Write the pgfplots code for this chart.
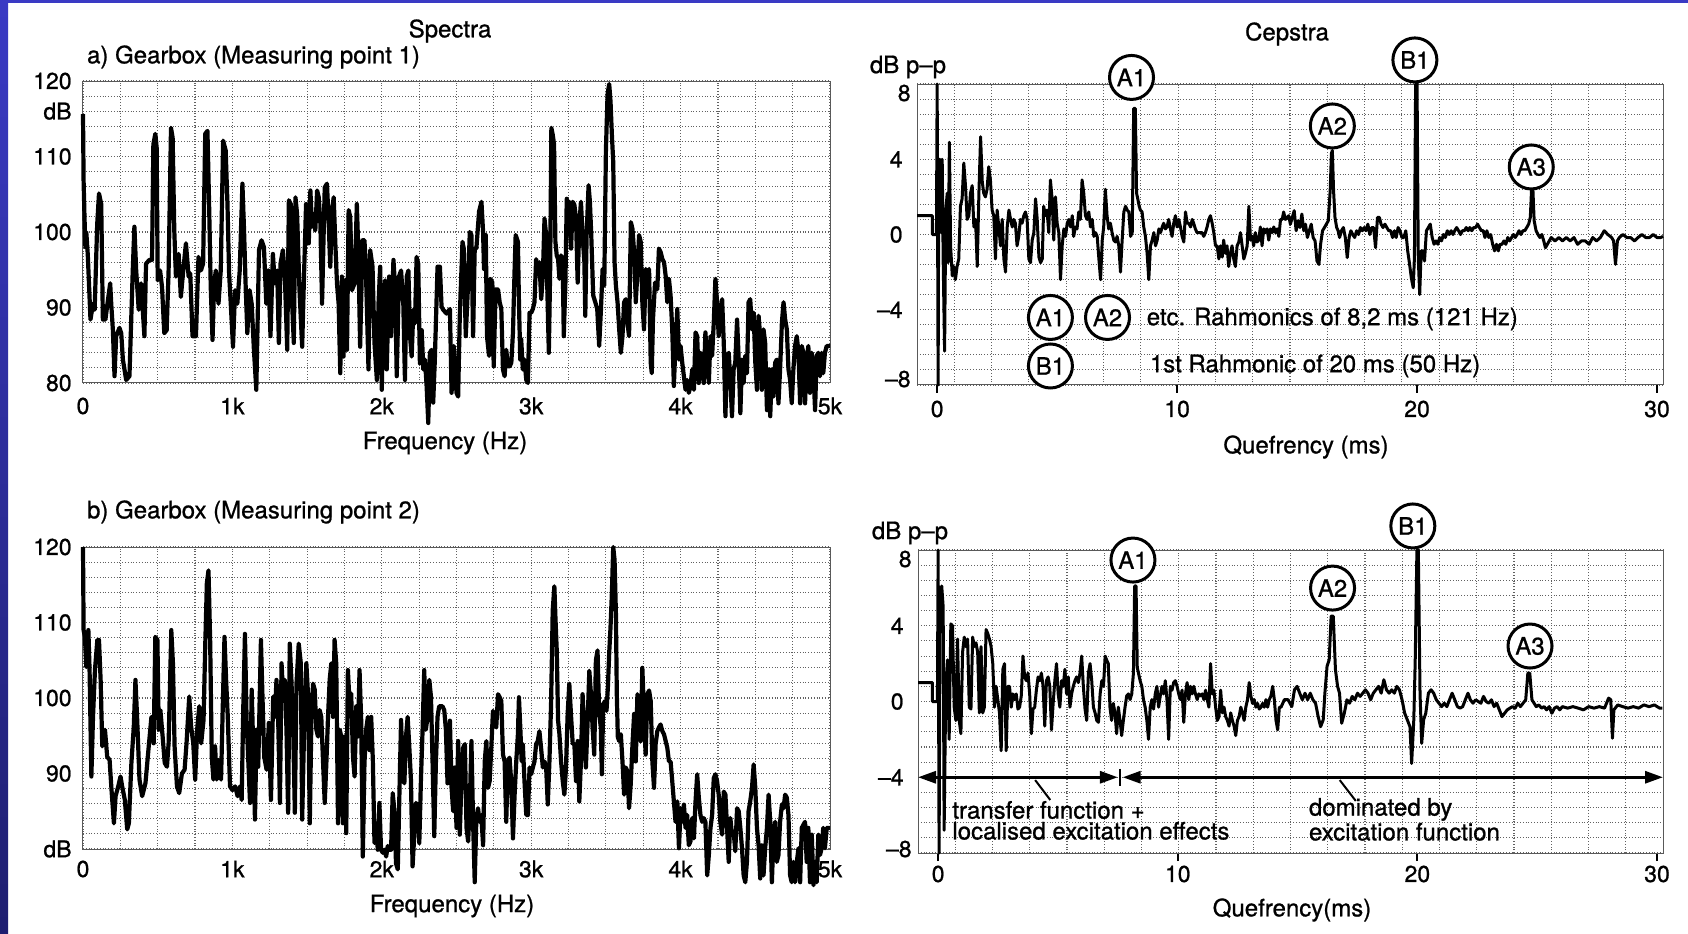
\documentclass[border=0pt]{standalone}
\usepackage{pgfplots}
\pgfplotsset{compat=1.18}
\usepackage{fontspec}
\setmainfont{TeX Gyre Heros}[FakeBold=0.9]
\usetikzlibrary{arrows.meta}

\definecolor{frameblue}{RGB}{58,58,196}
\definecolor{framenavy}{RGB}{30,30,112}

\newcommand{\txt}{\fontsize{12}{14}\selectfont}
\newcommand{\tks}{\fontsize{11.5}{13}\selectfont}

\tikzset{
  peaklabel/.style={draw, circle, line width=1.5pt, minimum size=22pt, inner sep=0pt, fill=white, font=\txt},
  ceplabel/.style={anchor=east, inner sep=0pt, xshift=-3pt, font=\tks},
}

\pgfplotsset{
  chartpaper/.style={
    scale only axis,
    clip=false,
    /pgf/number format/assume math mode=true,
    axis line style={black!65, line width=0.5pt},
    grid style={black!62, densely dotted, line width=0.55pt},
    tick label style={font=\tks},
    ytick style={draw=none},
    minor tick length=0pt,
  },
  spectrum/.style={
    chartpaper,
    width=373.5pt, height=151pt,
    xmin=0, xmax=5000, ymin=80, ymax=120,
    xtick={0,1000,2000,3000,4000,5000},
    xticklabels={0,1k,2k,3k,4k,5k},
    ytick={80,90,100,110,120},
    yticklabels={80,90,100,110,120},
    minor x tick num=3,
    minor y tick num=4,
    grid=both,
    xtick style={draw=none},
    yticklabel style={anchor=east, inner sep=0pt, xshift=-5.5pt},
  },
  cepstrum/.style={
    chartpaper,
    width=373pt, height=150.5pt,
    xmin=-0.84, xmax=30.25, ymin=-8, ymax=8,
    xtick={0,10,20,30},
    xticklabels={0,10,20,30},
    ytick={-8,-4,0,4,8},
    yticklabels={,--4,0,4,},
    minor xtick={0.7145,2.269,3.8235,5.378,6.9325,8.487,10.0415,11.596,13.1505,14.705,16.2595,17.814,19.3685,20.923,22.4775,24.032,25.5865,27.141,28.6955},
    minor y tick num=4,
    xmajorgrids=false, xminorgrids=true,
    ymajorgrids=true, yminorgrids=true,
    tick pos=left,
    tick align=outside,
    xtick style={black, line width=1pt},
    major tick length=4pt,
    yticklabel style={anchor=east, inner sep=0pt, xshift=-3pt},
  },
  trace/.style={black, line width=2.1pt, line join=round},
  ctrace/.style={black, line width=1.5pt, line join=round},
}

\begin{document}
\begin{tikzpicture}
\useasboundingbox (0,0) rectangle (844pt,466.5pt);
\fill[white] (0,0) rectangle (844pt,466.5pt);
\shade[top color=frameblue, bottom color=framenavy] (0,0) rectangle (4pt,466.5pt);
\fill[frameblue] (0,464.8pt) rectangle (844pt,466.5pt);

% headings
\node[font=\txt] at (225pt,451pt) {Spectra};
\node[font=\txt] at (643.5pt,449.5pt) {Cepstra};
\node[font=\txt, anchor=west] at (40pt,438pt) {a) Gearbox (Measuring point 1)};
\node[font=\txt, anchor=west] at (40pt,210.5pt) {b) Gearbox (Measuring point 2)};
\node[font=\txt] at (222.5pt,245pt) {Frequency (Hz)};
\node[font=\txt] at (226pt,13.5pt) {Frequency (Hz)};
\node[font=\txt] at (653pt,243pt) {Quefrency (ms)};
\node[font=\txt] at (646pt,11.5pt) {Quefrency(ms)};
\node[font=\txt] at (454pt,433pt) {dB p--p};
\node[font=\txt] at (455pt,200pt) {dB p--p};

% ---------------- a) spectrum, measuring point 1
\begin{axis}[spectrum, at={(41.5pt,275pt)}, anchor=south west,
  xticklabel style={anchor=center, yshift=-11.5pt}]
\addplot[trace] table {
f dB
0 115.6
4 106.8
10 102
16 98
22 100
32 97
50 88.4
67 90.5
78 89.7
95 101
107 105.1
122 103.7
133 88.4
150 88.4
167 91
182 93.2
189 90.5
200 87
211 80.9
222 86.2
244 87.3
256 86.6
267 83.1
289 80.4
311 80.9
333 94.9
344 100.7
356 94.9
373 89.7
389 93.2
411 86.2
422 95.8
444 96.3
462 96.3
471 111.6
484 113
493 111.2
500 93.6
516 94.9
529 92.7
544 86.6
560 87
573 94.9
589 113.8
600 112.5
611 100.2
622 94.1
640 97.1
655 91.4
671 94.9
689 98.5
707 94.1
718 94.5
733 86.2
756 86.2
773 96.7
789 94.9
804 95.8
818 113
833 113.4
844 103.7
855 92.7
867 85.7
878 93.2
889 94.9
907 90.5
922 94.9
938 112.1
955 110.8
967 103.7
978 94.5
989 90.5
1004 84.8
1018 92.3
1033 90.5
1049 94.9
1067 106.4
1078 100.2
1089 92.7
1100 86.6
1115 92.3
1129 90.5
1144 84.4
1160 79.1
1178 97.6
1195 98.9
1211 98
1227 90.5
1240 94.9
1255 86.2
1271 97.1
1284 93.2
1300 94.9
1311 85.3
1322 95.8
1338 97.6
1351 94.1
1367 84.4
1378 104.2
1391 103.7
1400 90.5
1411 85.3
1422 104.6
1433 102.4
1449 92.3
1467 84.8
1478 93.2
1493 103.7
1511 98.5
1522 105.5
1533 100.7
1544 102.4
1555 100.2
1567 105.5
1578 104.6
1589 101.1
1600 90.5
1618 105.9
1633 106.4
1644 101.5
1655 95.4
1667 102.9
1678 104.6
1689 98.5
1700 93.2
1711 90.5
1722 81.3
1733 94.1
1744 83.5
1755 93.6
1767 84.4
1778 102.9
1789 102
1800 92.3
1818 93.2
1833 103.7
1844 96.7
1855 84.8
1871 98.9
1884 98.9
1893 95.4
1911 81.8
1922 97.6
1938 95.4
1951 85.3
1967 80.4
1978 90.5
1989 95.4
2000 79.1
2011 91
2022 93.6
2033 81.8
2049 94.1
2062 86.2
2078 96.3
2089 92.7
2100 80.9
2115 94.1
2129 94.9
2144 90.5
2155 80.4
2167 94.1
2178 94.9
2189 86.2
2200 83.5
2211 89.7
2222 87.9
2233 96.7
2244 95.8
2255 82.6
2267 87
2278 81.8
2289 83.1
2300 79.6
2311 74.7
2322 84
2333 84.4
2344 77.4
2355 83.1
2373 95.4
2389 95.4
2400 90.1
2411 89.7
2433 89.2
2456 89.8
2467 78.7
2482 84.9
2500 78.7
2511 78.2
2522 88.9
2540 98.7
2549 97.8
2562 86.2
2578 93.3
2589 100
2600 99.6
2611 86.2
2622 97.8
2633 97.8
2651 102.7
2667 104
2678 100
2684 95.1
2696 99.6
2704 86.2
2718 83.6
2727 93.8
2740 93.3
2749 82.2
2762 92.4
2778 92.4
2789 90.7
2800 89.8
2811 81.8
2822 80.9
2833 84.4
2844 82.2
2856 82.2
2867 82.7
2878 86.7
2889 95.1
2896 99.6
2911 98.7
2918 90.7
2927 83.1
2933 85.8
2944 81.8
2955 83.1
2967 80.4
2978 80
2989 89.3
3000 89.3
3011 89.8
3022 90.7
3033 96.4
3044 95.1
3055 96
3067 91.1
3078 94.2
3089 101.8
3100 99.6
3111 89.8
3118 84
3127 95.1
3135 113.8
3144 112.9
3153 111.6
3162 98.7
3171 96.9
3180 96.4
3189 93.8
3200 96.9
3211 96
3218 86.2
3229 93.3
3238 104.4
3247 102.2
3256 104
3267 97.8
3278 104
3289 103.6
3300 101.8
3311 93.3
3322 100.9
3333 104
3344 99.6
3356 96
3362 88.9
3371 99.6
3384 106.2
3393 104
3402 99.6
3415 91.6
3429 90.7
3442 89.8
3455 84.9
3467 89.8
3478 95.1
3489 92.9
3500 110.7
3511 118.2
3522 119.6
3531 117.3
3540 112.9
3549 109.3
3558 96
3567 92.9
3578 90.7
3589 87.1
3600 84
3611 86.2
3622 90.7
3633 91.1
3644 88
3655 86.2
3667 101.3
3678 100.4
3689 97.3
3700 90.7
3711 94.7
3722 99.6
3733 98.7
3744 90.7
3755 87.1
3767 95.1
3778 93.3
3789 95.1
3800 82.7
3807 81.3
3815 88.4
3829 93.3
3844 92.4
3855 97.8
3867 97.3
3878 96.4
3889 96
3900 94.2
3911 90.7
3922 93.8
3933 91.6
3944 87.1
3955 79.6
3967 85.8
3978 89.8
3989 83.1
4000 84.9
4011 82.7
4022 80.9
4033 79.1
4044 80.4
4055 78.7
4066 79.6
4078 81.8
4089 79.1
4100 86.7
4111 86.2
4122 80
4133 84
4144 83.6
4155 80
4166 86.7
4178 83.1
4189 80
4200 86.2
4211 83.6
4222 88
4233 93.8
4244 90.7
4255 86.2
4266 89.3
4278 91.1
4289 85.3
4300 75.6
4311 83.6
4322 84
4333 80.4
4344 75.6
4355 81.8
4366 82.7
4378 88.4
4389 83.1
4400 76
4411 83.1
4422 80
4433 83.6
4444 81.3
4455 90.7
4466 91.1
4478 87.1
4489 89.3
4500 82.7
4511 79.1
4522 88.9
4533 86.2
4544 79.1
4555 87.1
4566 85.3
4578 76.4
4589 81.8
4600 75.6
4611 81.8
4622 78.2
4633 82.7
4644 83.1
4655 77.3
4666 81.8
4678 88
4689 90.7
4700 88.4
4711 87.1
4722 81.8
4733 80.4
4744 77.3
4755 81.8
4766 84.9
4778 86.2
4789 84
4800 77.3
4811 84.9
4822 84
4833 77.3
4844 83.1
4855 84.9
4866 78.7
4878 84
4889 81.8
4900 76.4
4911 83.6
4922 84
4933 80.9
4944 84
4955 81.3
4966 84
4978 84.9
5000 84.9
};
\node[anchor=east, inner sep=0pt, xshift=-5.5pt, font=\tks] at (axis cs:0,116) {dB};
\end{axis}

% ---------------- b) spectrum, measuring point 2
\begin{axis}[spectrum, at={(41.5pt,42pt)}, anchor=south west,
  yticklabels={dB,90,100,110,120},
  xticklabel style={anchor=center, yshift=-10pt}]
\addplot[trace] table {
f dB
0 120
4 109
13 108.1
22 104.1
36 109
44 103.7
56 89.6
67 97.5
80 103.7
96 107.7
107 107.7
118 102.4
129 93.6
147 95.8
162 92.2
178 91.8
191 87.8
207 83.4
218 87
236 88.3
251 89.6
262 88.3
280 86.5
296 82.6
307 83.4
324 91.4
340 96.2
351 102.4
362 97.5
378 89.2
396 87
418 88.7
440 93.6
458 97.5
473 94
484 108.1
498 107.7
507 95.8
518 98.4
533 94.9
547 91.4
562 90.9
573 94
591 109
602 104.6
613 93.6
629 88.3
644 87.4
662 90
680 90.5
693 94
711 100.2
724 96.2
738 94
751 89.2
764 95.8
778 98.9
791 94
807 97.1
818 106.8
829 115.2
840 116.9
851 107.7
862 92.2
873 89.2
884 93.6
895 89.2
907 91.8
924 89.2
935 98.4
947 108.1
958 102.4
969 97.5
984 88.3
1000 87.8
1018 88.3
1035 87
1051 88.3
1062 86.5
1073 98.9
1084 108.5
1095 97.1
1107 91.4
1118 86.1
1129 101.1
1140 93.1
1151 83.9
1162 95.8
1173 90.9
1191 107.7
1200 101.1
1213 92.2
1229 90.5
1244 96.7
1258 86.5
1273 100.2
1284 97.5
1295 102.4
1307 96.7
1318 86.1
1329 104.6
1340 100.2
1351 102.4
1362 95.8
1373 84.8
1384 107.2
1395 102.4
1407 95.8
1418 84.8
1429 101.9
1444 107.2
1458 104.6
1467 83.9
1480 95.8
1495 104.6
1507 100.2
1518 83.4
1529 97.5
1540 101.9
1551 101.1
1562 95.8
1573 94.9
1584 98.4
1595 97.5
1607 91.4
1618 86.1
1629 91.4
1640 97.5
1651 102.4
1662 104.6
1673 97.5
1684 107.7
1695 104.6
1707 83.4
1718 95.8
1729 94.9
1740 83.4
1751 94.9
1762 82.1
1773 103.7
1784 99.5
1795 100.6
1807 92.2
1818 89.6
1829 98.9
1840 94.9
1851 103.7
1862 97.1
1873 79
1884 91.4
1895 95.8
1907 97.5
1918 93.1
1929 97.5
1940 91.8
1951 80.8
1962 83.4
1973 79.9
1984 86.1
1995 79.9
2007 79.5
2018 79.9
2029 79
2040 80.4
2051 79.9
2062 79.9
2073 87.4
2084 85.2
2095 78.1
2107 77.3
2118 87.4
2129 97.1
2140 89.6
2151 88.7
2162 94.9
2173 97.5
2184 93.6
2195 89.2
2206 77.7
2218 82.1
2229 86.1
2240 85.7
2251 80.8
2262 89.2
2273 95.8
2284 103.7
2295 95.8
2306 97.5
2318 102.4
2329 100.2
2340 91.4
2351 81.7
2362 91.4
2373 97.5
2384 98.9
2406 98.9
2418 98.4
2429 95.8
2440 88.7
2456 97
2467 88.1
2478 85
2489 90.8
2500 82.8
2511 94.3
2522 81.9
2533 89
2544 93.4
2556 93.9
2567 82.8
2578 81
2589 85.9
2600 94.3
2611 83.6
2622 75.6
2633 84.1
2644 85.4
2655 83.6
2666 84.5
2678 80.5
2689 91.6
2700 94.3
2711 88.1
2722 89
2733 93.4
2744 98.3
2755 97
2766 96.1
2778 100.5
2789 100.1
2800 99.6
2811 92.5
2822 91.6
2833 83.6
2844 91.6
2855 92.1
2866 89
2878 81.4
2889 87.2
2900 91.6
2911 95.2
2918 100.1
2927 96.1
2936 91.6
2944 93.9
2955 89
2967 84.5
2978 84.5
2989 90.8
3000 89.9
3011 90.8
3022 91.6
3033 93.9
3044 94.3
3055 95.6
3066 93.4
3078 90.8
3089 91.6
3100 90.8
3111 85.9
3122 91.6
3133 99.2
3144 111.6
3155 114.8
3162 110.8
3171 106.3
3180 97
3189 95.2
3200 91.6
3211 89
3222 87.2
3233 90.8
3244 97.9
3255 101.9
3266 97.9
3278 93.9
3289 93.9
3300 89
3311 94.3
3322 86.3
3333 91.6
3344 100.5
3355 96.1
3366 90.8
3378 97
3389 103.6
3400 100.5
3411 96.1
3422 92.5
3433 105
3444 106.3
3455 97.9
3466 96.1
3473 89.9
3482 99.2
3495 99.6
3504 98.3
3513 101.3
3522 105.9
3531 109.4
3540 113.9
3549 120
3558 118.3
3567 111.2
3573 100.5
3580 94.8
3589 94.3
3600 95.2
3611 91.6
3622 87.2
3633 90.8
3644 90.3
3655 85.4
3666 88.5
3678 93.9
3689 97.9
3700 91.6
3711 100.5
3722 97.9
3733 94.3
3744 104
3755 97.9
3766 92.5
3778 100.5
3789 101
3800 99.6
3811 91.6
3822 88.1
3833 93.9
3844 95.6
3855 96.1
3866 96.5
3878 95.6
3889 95.2
3900 94.3
3911 93.4
3922 91.6
3933 91.6
3944 89
3955 86.3
3966 83.6
3978 86.3
3989 80.1
4000 85.4
4011 83.6
4022 85.9
4033 82.8
4044 84.5
4055 80.5
4066 81
4078 84.1
4089 81.4
4100 86.3
4111 89.9
4122 86.8
4133 84.5
4144 83.6
4155 84.1
4166 83.6
4178 76.5
4189 79.2
4200 82.8
4211 84.5
4222 89.4
4233 89.9
4244 89
4255 87.2
4266 83.6
4278 81.9
4289 87.6
4300 87.2
4311 82.8
4322 78.3
4333 84.1
4344 81.9
4355 82.3
4366 79.7
4378 85.4
4389 85
4400 82.8
4411 80.1
4422 76.5
4433 75.6
4444 78.3
4455 85
4466 86.3
4478 88.1
4489 91.2
4500 88.1
4511 82.8
4522 80.5
4533 76.1
4544 80.5
4555 76.5
4566 80.1
4578 82.8
4589 87.2
4600 83.6
4611 75.6
4622 81.9
4633 83.6
4644 78.3
4655 79.2
4666 83.6
4678 85.9
4689 85.4
4700 87.2
4711 86.8
4722 84.5
4733 76.5
4744 75.6
4755 78.3
4766 75.6
4778 78.3
4789 80.1
4800 75.6
4811 82.8
4822 83.2
4833 83.6
4844 78.3
4855 82.8
4866 75.6
4878 81.9
4889 75.2
4900 78.3
4911 75.6
4922 81.9
4933 79.2
4944 80.1
4955 82.8
4966 80.1
4978 82.8
5000 82.8
};
\end{axis}

% ---------------- a) cepstrum, measuring point 1
\begin{axis}[cepstrum, at={(458.5pt,274pt)}, anchor=south west,
  xticklabel style={anchor=center, yshift=-8pt}]
\addplot[ctrace] table {
q c
-0.84 1.0
-0.2 1.0
-0.2 0
-0.03 0
0 8
0.04 -8
0.07 4
0.11 4
0.17 0.1
0.21 4
0.25 -1.3
0.31 -6.2
0.36 1.3
0.42 2.2
0.46 -1.5
0.51 4.9
0.56 -0.6
0.63 -2.2
0.69 -1.7
0.76 -2.4
0.83 -1.7
0.9 -1.3
0.97 1.5
1.04 1.9
1.11 3.8
1.18 2.6
1.25 0.8
1.32 1.0
1.39 2.2
1.46 2.6
1.53 0.4
1.6 0.8
1.67 -1.7
1.74 2.2
1.81 5.2
1.88 2.8
1.94 2.2
2.01 2.0
2.08 2.4
2.15 3.6
2.22 2.9
2.29 1.3
2.36 1.0
2.43 -1.3
2.5 1.3
2.57 0.4
2.64 -0.6
2.71 0.8
2.78 -1.3
2.85 -2.0
2.92 0.4
2.99 1.3
3.06 0.8
3.13 0.4
3.19 0.8
3.26 0.6
3.33 -0.6
3.4 -0.1
3.47 0.8
3.54 0.6
3.61 1.0
3.68 1.2
3.75 0.8
3.82 -1.3
3.89 -1.5
3.96 -0.3
4.03 0.1
4.1 1.9
4.17 0.8
4.24 -1.2
4.31 -1.5
4.38 -1.3
4.44 1.5
4.51 1.0
4.58 1.3
4.65 0.1
4.72 2.9
4.79 1.9
4.86 -0.3
4.93 2.0
5.0 0.6
5.07 0.1
5.14 -2.4
5.21 -0.6
5.28 0.3
5.35 -0.1
5.42 0.6
5.49 0.8
5.56 0.4
5.63 1.0
5.69 -0.1
5.76 0.4
5.83 0.3
5.9 1.2
5.97 0.8
6.04 2.9
6.11 2.2
6.18 1.0
6.25 0.8
6.32 1.2
6.39 0.4
6.46 0.8
6.53 -0.1
6.6 0.1
6.67 -0.1
6.74 -1.3
6.81 -2.4
6.88 -0.3
6.94 0.4
7.01 2.4
7.08 1.0
7.15 0.3
7.22 0.6
7.29 0.1
7.36 -0.3
7.43 -0.4
7.5 -0.1
7.57 -0.6
7.64 -2.0
7.71 -0.3
7.78 1.2
7.85 1.5
7.92 1.3
7.99 1.2
8.06 -0.1
8.13 0.1
8.19 6.7
8.26 6.7
8.31 2.2
8.36 1.9
8.42 1.5
8.47 1.3
8.54 1.2
8.61 0.4
8.68 -0.1
8.75 -1.0
8.82 -2.4
8.89 -0.6
8.96 -0.3
9.03 0.1
9.1 -0.6
9.17 -0.3
9.24 0.3
9.31 0.1
9.38 0.4
9.44 0.6
9.51 0.3
9.58 0.4
9.65 0.8
9.72 0.3
9.79 -0.1
9.86 0.6
9.93 1.0
10.0 0.4
10.07 0.8
10.14 0.4
10.21 -0.1
10.28 -0.4
10.35 1.2
10.42 0.6
10.49 0.6
10.56 0.4
10.63 0.8
10.69 0.6
10.76 0.3
10.83 0.1
10.9 0.1
10.97 0.1
11.04 0.1
11.11 -0.1
11.18 0.1
11.25 0.4
11.32 0.8
11.39 1.0
11.46 0.6
11.53 0.1
11.6 -0.6
11.67 -0.6
11.74 -1.3
11.81 -0.6
11.88 -1.2
11.94 -0.3
12.01 -1.0
12.08 -0.6
12.15 -1.7
12.22 -1.0
12.29 -0.6
12.36 -1.3
12.43 -1.7
12.5 -0.6
12.57 -0.4
12.64 0.1
12.71 -0.6
12.78 -1.3
12.85 -1.0
12.92 -0.6
12.99 1.5
13.06 -0.3
13.13 -0.1
13.19 -0.6
13.26 0.1
13.33 -0.4
13.4 -0.3
13.47 0.4
13.54 -0.6
13.61 0.3
13.68 0.1
13.75 0.3
13.82 -0.3
13.89 0.3
13.96 0.1
14.03 0.4
14.1 0.1
14.17 0.3
14.24 -0.1
14.31 0.8
14.38 0.8
14.44 1.2
14.51 0.8
14.65 1.0
14.72 0.55
14.8 0.91
14.88 1.27
14.96 0.2
15.04 0.73
15.12 0.37
15.2 1.09
15.28 0.2
15.35 0.55
15.43 -0.16
15.51 0.2
15.59 0.55
15.67 -0.16
15.75 -0.34
15.83 -1.41
15.91 -1.59
15.98 -0.52
16.06 0.2
16.14 0.37
16.22 0.55
16.3 0.73
16.38 2.34
16.43 4.3
16.47 4.47
16.52 2.34
16.58 0.91
16.65 0.37
16.71 0.2
16.77 -0.16
16.85 0.2
16.93 0.37
17.01 -0.16
17.09 -1.23
17.17 -0.16
17.24 0.2
17.32 0
17.4 -0.16
17.48 0.2
17.56 0
17.64 0.37
17.72 0.2
17.8 0.37
17.87 0.2
17.95 0.55
18.03 0
18.11 0.37
18.19 0.37
18.27 -0.7
18.35 0.91
18.43 0.91
18.5 0.55
18.58 0.37
18.66 0.55
18.74 0.37
18.82 0.2
18.9 0.2
18.98 -0.16
19.06 0.2
19.13 -0.16
19.21 0.37
19.29 0.2
19.37 -0.16
19.45 -0.16
19.53 0.2
19.61 -0.87
19.69 -1.59
19.76 -2.3
19.84 -2.83
19.89 -1.23
19.94 8.0
20.0 8.0
20.05 -1.23
20.11 -3.19
20.17 -0.87
20.24 -0.87
20.31 -1.41
20.39 0.2
20.47 0.37
20.55 0.55
20.63 -0.16
20.71 -0.52
20.79 -0.34
20.87 -0.52
20.94 -0.16
21.02 -0.34
21.1 0
21.18 -0.16
21.26 0.2
21.34 0
21.42 0.2
21.5 0
21.57 0.2
21.65 0.37
21.73 0.2
21.81 0
21.89 0.2
21.97 0.2
22.05 0.37
22.13 0.2
22.2 0.37
22.28 0.2
22.36 0.37
22.44 0.37
22.52 0.55
22.6 0.37
22.68 0.2
22.76 0.2
22.83 -0.16
22.91 0.2
22.99 -0.16
23.07 0
23.15 -0.52
23.23 -0.87
23.31 -0.52
23.39 -0.87
23.46 -0.52
23.54 -0.52
23.62 -0.34
23.7 -0.52
23.78 -0.16
23.86 -0.34
23.94 -0.16
24.02 0
24.09 -0.16
24.17 0
24.25 0.2
24.33 0
24.41 0.2
24.49 0.2
24.57 0.37
24.65 0.55
24.72 0.91
24.77 2.34
24.83 2.34
24.88 0.73
24.96 0.2
25.04 0
25.12 -0.16
25.2 0
25.28 -0.34
25.35 -0.7
25.43 -0.52
25.51 -0.34
25.59 -0.16
25.75 -0.34
25.91 -0.16
26.06 -0.34
26.22 -0.16
26.38 -0.34
26.54 -0.16
26.69 -0.52
26.85 -0.34
27.01 -0.34
27.17 -0.52
27.32 -0.16
27.48 -0.34
27.64 -0.16
27.8 0.2
27.95 0
28.11 -0.16
28.19 -0.34
28.27 -1.59
28.35 -0.34
28.43 -0.16
28.58 0
28.74 -0.16
28.9 -0.16
29.06 -0.34
29.21 -0.16
29.37 0
29.53 -0.16
29.69 -0.16
29.84 0
30.0 -0.16
30.16 -0.16
30.25 -0.1
};
\node[ceplabel, yshift=-4.5pt] at (axis cs:-0.84,8) {8};
\node[ceplabel, yshift=3pt] at (axis cs:-0.84,-8) {--8};
\node[peaklabel] at (axis cs:8.1,8.35) {A1};
\node[peaklabel] at (axis cs:16.47,5.77) {A2};
\node[peaklabel] at (axis cs:19.91,9.28) {B1};
\node[peaklabel] at (axis cs:24.76,3.59) {A3};
\node[peaklabel] at (axis cs:4.72,-4.41) {A1};
\node[peaklabel] at (axis cs:7.1,-4.41) {A2};
\node[peaklabel] at (axis cs:4.72,-6.99) {B1};
\node[anchor=west, font=\txt, inner sep=0pt] at (axis cs:8.72,-4.49) {etc. Rahmonics of 8,2 ms (121 Hz)};
\node[anchor=west, font=\txt, inner sep=0pt] at (axis cs:8.85,-6.99) {1st Rahmonic of 20 ms (50 Hz)};
\end{axis}

% ---------------- b) cepstrum, measuring point 2
\begin{axis}[cepstrum, at={(459pt,40pt)}, anchor=south west, height=151.5pt, width=372.5pt,
  xticklabel style={anchor=center, yshift=-6.5pt}]
\addplot[ctrace] table {
q c
-0.84 1.0
-0.24 1.0
-0.24 0
-0.03 0
0.0 8
0.04 -8
0.08 4.3
0.11 4.3
0.15 6.1
0.21 5.0
0.25 -6.8
0.32 0.8
0.39 2.2
0.46 -2.0
0.53 4.1
0.6 4.0
0.67 -0.3
0.74 -1.0
0.81 3.3
0.88 -1.0
0.95 -1.7
1.02 2.6
1.09 3.4
1.16 2.9
1.23 3.3
1.3 -0.3
1.37 -0.4
1.44 3.4
1.51 2.9
1.58 3.1
1.65 2.6
1.72 -0.6
1.79 2.9
1.86 -0.6
1.93 -0.3
2.0 3.8
2.07 3.6
2.14 3.3
2.21 2.9
2.28 2.0
2.35 -0.3
2.42 0.8
2.49 0.1
2.56 -0.6
2.63 -2.6
2.7 1.7
2.77 2.0
2.84 -2.6
2.91 0.8
2.98 0.8
3.05 -0.3
3.12 0.4
3.19 0.1
3.26 0.4
3.33 -0.4
3.4 -0.3
3.47 0.3
3.54 2.4
3.61 1.3
3.68 1.1
3.75 1.5
3.82 0.4
3.89 -1.7
3.96 -0.4
4.03 -0.3
4.1 0.6
4.17 1.3
4.24 1.1
4.31 1.5
4.38 0.8
4.45 -1.3
4.52 1.1
4.59 1.3
4.66 0.8
4.73 -1.5
4.8 -0.1
4.87 1.1
4.94 2.0
5.01 0.4
5.08 -0.3
5.15 1.1
5.22 0.8
5.29 1.7
5.36 0.4
5.43 1.3
5.5 -0.3
5.57 0.4
5.64 0.8
5.71 1.1
5.78 1.3
5.85 1.0
5.92 1.5
5.99 2.4
6.06 0.8
6.13 -0.4
6.2 -1.0
6.27 1.5
6.34 2.0
6.41 1.1
6.48 -0.3
6.55 -0.6
6.62 -1.0
6.69 -1.1
6.76 0.4
6.83 1.1
6.9 0.8
6.97 2.4
7.03 2.2
7.1 2.0
7.17 -0.3
7.24 -1.0
7.31 -0.1
7.38 -0.6
7.45 -1.7
7.52 -0.3
7.59 -1.0
7.66 -1.8
7.73 -1.0
7.8 -0.3
7.87 0.3
7.94 0.4
8.01 0.1
8.08 0.4
8.15 1.5
8.2 6.1
8.26 6.1
8.31 1.8
8.36 1.5
8.43 1.1
8.5 0.8
8.57 0.1
8.64 -0.3
8.71 -1.0
8.78 -2.0
8.85 -0.3
8.92 0.1
8.99 -0.4
9.06 0.4
9.13 0.8
9.2 -0.3
9.27 0.3
9.34 0.8
9.41 0.4
9.48 1.1
9.55 0.1
9.62 -2.0
9.69 0.8
9.76 0.6
9.83 1.0
9.9 1.1
9.97 0.8
10.04 0.4
10.11 0.1
10.18 0.6
10.25 -1.1
10.32 0.4
10.39 1.0
10.46 0.1
10.53 0.8
10.6 0.4
10.67 0.8
10.74 0.4
10.81 0.1
10.88 0.4
10.95 0.3
11.02 0.4
11.09 0.1
11.16 0.6
11.23 0.1
11.3 -0.3
11.37 2.0
11.44 0.4
11.51 0.6
11.58 -0.3
11.65 -1.0
11.72 -0.8
11.79 0.6
11.86 -0.6
11.93 -0.3
12.0 -0.8
12.07 -1.0
12.14 -1.3
12.21 -0.6
12.28 -1.0
12.35 -1.3
12.42 -1.8
12.49 -1.0
12.56 -0.8
12.63 -0.3
12.7 -0.6
12.77 -1.0
12.84 -0.3
12.91 0.1
12.98 1.0
13.05 0.3
13.12 -0.1
13.19 0.1
13.26 -0.3
13.33 -0.1
13.4 -0.4
13.47 -0.3
13.54 -0.1
13.61 -0.3
13.68 0.1
13.75 -0.3
13.82 0.1
13.89 0.3
13.96 0.8
14.03 0.1
14.1 -1.0
14.17 -1.5
14.24 -0.3
14.31 -0.3
14.45 0.1
14.6 0.1
14.76 -0.27
14.87 0.62
14.98 0.8
15.09 0.44
15.2 0.09
15.31 0.44
15.42 0.09
15.53 0.44
15.64 0.09
15.75 -0.09
15.86 -0.8
15.96 -1.33
16.07 -0.97
16.14 0.44
16.23 1.86
16.32 2.21
16.4 4.51
16.49 4.51
16.58 1.68
16.67 0.8
16.75 0.44
16.84 -1.15
16.95 -0.62
17.06 0.09
17.17 -0.09
17.28 0.27
17.39 0.09
17.5 0.44
17.61 0.27
17.72 0.44
17.83 0.62
17.94 0.44
18.05 0.09
18.16 0.44
18.27 0.62
18.38 0.8
18.49 0.44
18.6 1.15
18.71 0.62
18.82 0.44
18.93 0.62
19.04 0.44
19.14 0.8
19.25 0.62
19.36 0.09
19.47 -0.62
19.58 -0.97
19.69 -1.33
19.76 -3.27
19.85 -0.97
19.91 2.21
19.98 8.0
20.04 8.0
20.11 0.44
20.18 -2.21
20.26 -0.97
20.35 -0.62
20.46 0.44
20.57 0.62
20.68 0.44
20.79 0.09
20.9 -0.09
21.01 -0.27
21.12 -0.09
21.23 -0.27
21.34 0.09
21.45 0.44
21.56 0.09
21.67 -0.27
21.78 -0.35
21.89 -0.27
22.0 0.09
22.11 0.44
22.21 0.09
22.32 -0.09
22.43 0.09
22.54 0
22.65 -0.09
22.76 0.27
22.87 0
22.98 -0.09
23.09 0.09
23.2 -0.27
23.31 -0.09
23.42 -0.44
23.53 -0.8
23.64 -0.62
23.75 -0.44
23.86 -0.35
23.97 -0.27
24.08 -0.35
24.19 -0.09
24.3 -0.27
24.41 -0.09
24.52 0.09
24.61 1.5
24.69 1.5
24.78 0.09
24.87 -0.09
24.96 -0.27
25.07 -0.18
25.18 -0.35
25.29 -0.27
25.39 -0.44
25.5 -0.27
25.61 -0.62
25.72 -0.35
25.83 -0.27
25.94 -0.44
26.05 -0.27
26.27 -0.35
26.49 -0.27
26.71 -0.35
26.93 -0.44
27.15 -0.27
27.37 -0.35
27.59 -0.27
27.81 -0.35
27.98 0.18
28.07 0.09
28.14 -1.94
28.2 -0.44
28.36 -0.18
28.57 -0.27
28.79 -0.35
29.01 -0.27
29.23 -0.35
29.45 -0.18
29.67 -0.27
29.89 -0.18
30.11 -0.35
30.22 -0.35
};
\node[ceplabel, yshift=-4.5pt] at (axis cs:-0.84,8) {8};
\node[ceplabel, yshift=2pt] at (axis cs:-0.84,-8) {--8};
\node[peaklabel] at (axis cs:8.13,7.47) {A1};
\node[peaklabel] at (axis cs:16.46,5.99) {A2};
\node[peaklabel] at (axis cs:19.81,9.27) {B1};
\node[peaklabel] at (axis cs:24.7,2.93) {A3};
% extent of the two regions of the cepstrum
\draw[line width=1.5pt, {Triangle[length=9pt,width=6pt]}-{Triangle[length=9pt,width=6pt]}] (axis cs:-0.84,-4) -- (axis cs:7.5,-4);
\draw[line width=1.5pt, {Triangle[length=9pt,width=6pt]}-{Triangle[length=9pt,width=6pt]}] (axis cs:7.7,-4) -- (axis cs:30.25,-4);
\draw[line width=1pt] (axis cs:7.6,-3.55) -- (axis cs:7.6,-4.45);
\draw[line width=1pt] (axis cs:4.05,-4.15) -- (axis cs:4.68,-5.2);
\draw[line width=1pt] (axis cs:16.76,-4.15) -- (axis cs:17.43,-5.25);
\node[anchor=west, font=\txt, inner sep=0pt] at (axis cs:0.58,-5.73) {transfer function +};
\node[anchor=west, font=\txt, inner sep=0pt] at (axis cs:0.58,-6.83) {localised excitation effects};
\node[anchor=west, font=\txt, inner sep=0pt] at (axis cs:15.46,-5.7) {dominated by};
\node[anchor=west, font=\txt, inner sep=0pt] at (axis cs:15.46,-6.88) {excitation function};
\end{axis}
\end{tikzpicture}
\end{document}
